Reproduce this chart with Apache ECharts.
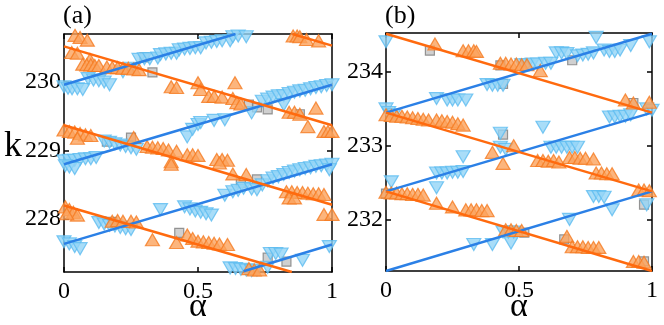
<!DOCTYPE html>
<html>
<head>
<meta charset="utf-8">
<script src="https://cdn.jsdelivr.net/npm/echarts@6/dist/echarts.min.js"></script>
<style>
  html, body { margin: 0; padding: 0; background: #fff; }
  #chart { width: 664px; height: 325px; }
</style>
</head>
<body>
<div id="chart"></div>
<script>
// panel (a): [alpha, k]
const aOrange = [
  [0.041,230.68],[0.06,230.65],[0.087,230.61],[0.029,230.43],[0.05,230.42],[0.097,230.33],
  [0.07,230.26],[0.085,230.25],[0.10,230.25],[0.115,230.24],[0.13,230.24],
  [0.16,230.22],[0.18,230.21],[0.2,230.21],[0.22,230.2],[0.24,230.2],[0.26,230.19],[0.28,230.18],
  [0.40,229.93],[0.42,229.92],[0.50,229.99],[0.51,229.89],[0.54,229.79],[0.56,229.79],[0.59,229.78],
  [0.638,229.99],[0.63,229.76],[0.645,229.70],[0.66,229.68],
  [0.855,230.67],[0.87,230.67],[0.88,230.66],[0.905,230.62],[0.95,230.60],
  [0.94,229.62],[0.84,229.56],[0.86,229.56],[0.88,229.53],[0.91,229.35],[0.97,229.28],[0.985,229.28],[1.0,229.28],
  [0,229.3],[0.02,229.28],[0.04,229.27],[0.06,229.25],[0.08,229.23],[0.1,229.22],[0.05,229.18],
  [0.26,229.19],[0.31,229.06],[0.33,229.05],[0.35,229.04],[0.37,229.03],[0.39,229.01],[0.42,228.99],
  [0.40,228.84],[0.46,228.94],[0.48,228.94],[0.50,228.93],[0.57,228.87],[0.59,228.87],[0.61,228.86],
  [0.40,228.80],[0.58,228.82],[0.63,228.66],[0.68,228.65],
  [0.83,228.40],[0.85,228.40],[0.87,228.39],[0.89,228.39],[0.91,228.38],[0.93,228.37],[0.95,228.37],[0.97,228.36],
  [0.84,228.31],[0.86,228.31],[0.97,228.07],[1.0,228.07],
  [0.005,228.18],[0.02,228.14],[0.035,228.1],[0.05,228.06],[0.01,228.08],
  [0.18,227.97],[0.20,227.98],[0.22,227.97],[0.25,227.97],[0.27,227.96],
  [0.33,227.70],[0.42,227.66],[0.46,227.77],[0.48,227.72],[0.50,227.68],[0.52,227.67],[0.54,227.66],
  [0.56,227.65],[0.58,227.64],[0.61,227.63],
  [0.69,227.28],[0.71,227.26],[0.73,227.26]
];
const aBlue = [
  [0,229.93],[0.015,229.91],[0.03,229.9],[0.05,229.9],[0.07,229.89],
  [0.09,230.05],[0.11,230.03],[0.13,230.02],[0.15,230.0],[0.17,229.96],[0.22,230.15],[0.25,230.2],
  [0.28,230.33],[0.30,230.34],[0.32,230.34],[0.35,230.35],
  [0.36,230.40],[0.38,230.41],[0.40,230.42],[0.42,230.42],
  [0.43,230.47],[0.45,230.48],[0.47,230.49],[0.49,230.5],[0.51,230.5],
  [0.53,230.57],[0.55,230.58],[0.57,230.59],[0.59,230.6],[0.62,230.6],
  [0.63,230.66],[0.65,230.67],[0.68,230.66],
  [0.70,229.55],[0.74,229.72],[0.76,229.75],[0.78,229.78],[0.8,229.8],[0.82,229.8],[0.84,229.83],
  [0.86,229.85],[0.88,229.87],[0.9,229.88],[0.92,229.9],[0.94,229.92],[0.96,229.93],[0.98,229.95],[1.0,229.96],
  [0.82,229.67],[0.46,229.20],[0.48,229.31],[0.50,229.38],[0.51,229.41],[0.56,229.44],[0.6,229.45],
  [0.15,229.14],[0.17,229.12],[0.19,229.1],[0.21,229.08],[0.23,229.06],[0.25,229.04],[0.27,229.02],
  [0,228.85],[0.02,228.86],[0.04,228.86],[0.06,228.87],[0.08,228.88],[0.10,228.88],[0.12,228.9],
  [0.005,228.78],[0.02,228.76],[0.04,228.74],
  [0.60,228.35],[0.63,228.40],[0.65,228.42],[0.67,228.45],[0.70,228.44],[0.72,228.43],[0.74,228.5],
  [0.76,228.56],[0.78,228.6],[0.8,228.62],[0.82,228.65],[0.84,228.68],[0.86,228.7],[0.88,228.72],
  [0.9,228.74],[0.92,228.75],[0.94,228.77],[0.96,228.78],[0.98,228.79],[1.0,228.8],[0.99,228.72],
  [0.45,228.18],[0.47,228.15],[0.49,228.12],[0.51,228.1],[0.53,228.08],[0.55,228.06],[0.36,228.14],
  [0.13,227.95],[0.15,227.93],[0.17,227.91],[0.19,227.9],[0.21,227.88],[0.23,227.86],[0.25,227.85],
  [0,227.67],[0.02,227.64],[0.04,227.6],[0.06,227.57],
  [0.62,227.29],[0.64,227.28],[0.66,227.27],[0.68,227.26],[0.70,227.25],[0.72,227.26],[0.76,227.3],
  [0.77,227.5],[0.79,227.5],[0.81,227.49],[0.89,227.4],[0.99,227.6]
];
const aGray = [
  [0.30,230.36],[0.33,230.14],[0.69,229.67],[0.72,229.63],[0.76,229.6],[0.88,229.53],
  [0.16,229.13],[0.25,229.19],[0.66,228.53],[0.72,228.58],[0.18,227.96],[0.43,227.80],
  [0.76,227.44],[0.83,227.38]
];
const aOrangeLines = [
  [[0,230.52],[1,229.37]], [[0,229.37],[1,228.21]], [[0,228.20],[0.85,227.23]], [[0.852,230.70],[1,230.53]]
];
const aBlueLines = [
  [[0,229.96],[0.64,230.70]], [[0,228.80],[1,229.96]], [[0,227.64],[1,228.80]], [[0.67,227.24],[1,227.63]]
];
const aTicks = [228, 229, 230];

// panel (b)
const bOrange = [
  [0.184,234.38],[0.29,234.29],[0.31,234.29],[0.33,234.29],[0.34,234.28],
  [0.43,234.12],[0.45,234.12],[0.47,234.11],[0.49,234.11],[0.51,234.1],[0.53,234.1],[0.58,234.02],
  [0.90,233.62],[0.99,233.59],[0.93,233.58],
  [0,233.42],[0.02,233.41],[0.04,233.4],[0.06,233.4],[0.08,233.39],[0.10,233.38],[0.12,233.37],[0.14,233.36],[0.16,233.35],
  [0.19,233.35],[0.21,233.34],[0.23,233.33],[0.25,233.32],[0.27,233.3],[0.29,233.28],
  [0.40,232.91],[0.44,232.76],[0.48,233.0],
  [0.57,232.8],[0.59,232.8],[0.61,232.79],[0.63,232.8],[0.65,232.78],
  [0.69,232.84],[0.71,232.84],[0.73,232.83],[0.75,232.83],[0.78,232.82],
  [0.79,232.63],[0.81,232.63],[0.83,232.62],[0.85,232.62],
  [0.95,232.4],[0.97,232.4],[0.99,232.39],
  [0,232.37],[0.02,232.36],[0.04,232.36],[0.06,232.35],[0.08,232.35],[0.10,232.34],[0.12,232.34],[0.14,232.33],
  [0.19,232.22],[0.25,232.17],[0.30,232.13],[0.32,232.13],[0.34,232.13],[0.36,232.12],[0.38,232.12],
  [0.45,231.86],[0.47,231.86],[0.49,231.85],[0.51,231.85],
  [0.68,231.77],[0.70,231.63],[0.72,231.63],[0.74,231.63],[0.76,231.62],[0.78,231.62],[0.80,231.62],
  [0.93,231.43],[0.95,231.43],[0.97,231.42]
];
const bBlue = [
  [0,234.41],[0.79,234.47],[0.99,234.41],
  [0.64,234.26],[0.66,234.26],[0.68,234.25],[0.72,234.22],[0.74,234.23],[0.76,234.24],[0.78,234.26],
  [0.82,234.3],[0.84,234.28],[0.86,234.28],[0.88,234.3],[0.92,234.36],
  [0.51,234.1],[0.53,234.1],[0.55,234.11],[0.57,234.11],[0.60,234.12],[0.62,234.12],
  [0.38,233.83],[0.40,233.82],[0.42,233.82],[0.44,233.82],
  [0.19,233.64],[0.23,233.62],[0.25,233.62],[0.27,233.62],[0.30,233.62],
  [0,233.5],[0.01,233.45],[0.03,233.42],
  [0.59,233.25],[0.43,233.17],[0.62,232.98],[0.64,232.98],[0.66,232.98],[0.68,232.98],[0.70,232.98],[0.72,232.98],
  [0.43,232.98],[0.45,232.95],[0.29,232.85],
  [0.84,233.39],[0.86,233.39],[0.88,233.4],[0.90,233.4],[0.92,233.42],[0.98,233.5],[1.0,233.48],
  [0.02,232.51],[0.19,232.63],[0.21,232.63],[0.23,232.63],[0.25,232.64],[0.27,232.64],[0.29,232.65],[0.19,232.43],
  [0.33,231.66],[0.40,231.66],[0.47,231.68],[0.44,231.83],[0.46,231.83],[0.48,231.83],
  [0.69,232.0],[0.78,232.31],[0.80,232.31],[0.82,232.3],[0.85,232.13],[0.98,232.2]
];
const bGray = [
  [0.165,234.29],[0.43,234.09],[0.44,233.84],[0.70,234.16],[0.93,233.58],[0.44,233.15],
  [0,232.35],[0.52,231.82],[0.67,231.73],[0.97,231.43],[0.97,232.2]
];
const bOrangeLines = [
  [[0,234.52],[1,233.45]], [[0,233.45],[1,232.38]], [[0,232.38],[1,231.30]]
];
const bBlueLines = [
  [[0,231.30],[1,232.38]], [[0,232.38],[1,233.45]], [[0,233.45],[1,234.52]]
];
const bTicks = [232, 233, 234];

const serif = 'Liberation Serif';

const ORANGE_LINE = '#ff6a0e';
const BLUE_LINE = '#2b80e6';

function xAxes(gi) {
  const base = {
    gridIndex: gi, type: 'value', min: 0, max: 1, interval: 0.5,
    splitLine: { show: false },
    axisLine: { show: true, onZero: false, lineStyle: { color: '#000', width: 1.5 } },
    axisTick: { show: true, inside: true, length: 5, lineStyle: { color: '#000', width: 1.5 } }
  };
  return [
    Object.assign({}, base, {
      position: 'bottom',
      axisLabel: { color: '#000', fontFamily: serif, fontSize: 24, margin: 8,
        formatter: v => String(v) }
    }),
    Object.assign({}, base, { position: 'top', axisLabel: { show: false } })
  ];
}

function yAxes(gi, lo, hi, ticks) {
  const base = {
    gridIndex: gi, type: 'value', min: lo, max: hi,
    splitLine: { show: false },
    axisLine: { show: true, onZero: false, lineStyle: { color: '#000', width: 1.5 } },
    axisTick: { show: true, inside: true, length: 5, customValues: ticks,
      lineStyle: { color: '#000', width: 1.5 } }
  };
  return [
    Object.assign({}, base, {
      position: 'left',
      axisLabel: { color: '#000', fontFamily: serif, fontSize: 24, margin: 3, customValues: ticks }
    }),
    Object.assign({}, base, { position: 'right', axisLabel: { show: false } })
  ];
}

function panelSeries(axOff, orange, blue, gray, oLines, bLines) {
  const xi = axOff, yi = axOff;
  const s = [];
  s.push({
    type: 'scatter', xAxisIndex: xi, yAxisIndex: yi, data: gray, clip: false, z: 2,
    symbol: 'rect', symbolSize: 9,
    itemStyle: { color: '#c4c4c4', borderColor: '#7d7d7d', borderWidth: 1.2 }
  });
  s.push({
    type: 'scatter', xAxisIndex: xi, yAxisIndex: yi, data: blue, clip: false, z: 3,
    symbol: 'triangle', symbolRotate: 180, symbolSize: [14, 12],
    itemStyle: { color: '#93d4f6', borderColor: '#5cbcf0', borderWidth: 1.2 }
  });
  s.push({
    type: 'scatter', xAxisIndex: xi, yAxisIndex: yi, data: orange, clip: false, z: 4,
    symbol: 'triangle', symbolSize: [14, 12],
    itemStyle: { color: '#fba25c', borderColor: '#f57a20', borderWidth: 1.2 }
  });
  oLines.forEach(seg => s.push({
    type: 'line', xAxisIndex: xi, yAxisIndex: yi, data: seg, showSymbol: false, z: 6,
    lineStyle: { color: ORANGE_LINE, width: 2.5 }, silent: true
  }));
  bLines.forEach(seg => s.push({
    type: 'line', xAxisIndex: xi, yAxisIndex: yi, data: seg, showSymbol: false, z: 5,
    lineStyle: { color: BLUE_LINE, width: 2.5 }, silent: true
  }));
  return s;
}

const chart = echarts.init(document.getElementById('chart'));
const xa = xAxes(0), xb = xAxes(1);
const ya = yAxes(0, 227.23, 230.70, aTicks), yb = yAxes(1, 231.30, 234.53, bTicks);

chart.setOption({
  animation: false,
  backgroundColor: '#fff',
  grid: [
    { left: 64, right: 332, top: 34, bottom: 53 },
    { left: 386, right: 12, top: 33, bottom: 54 }
  ],
  // bottom/left axes first so index 0/1 carry the data
  xAxis: [xa[0], xb[0], xa[1], xb[1]],
  yAxis: [ya[0], yb[0], ya[1], yb[1]],
  series: [].concat(
    panelSeries(0, aOrange, aBlue, aGray, aOrangeLines, aBlueLines),
    panelSeries(1, bOrange, bBlue, bGray, bOrangeLines, bBlueLines)
  ),
  graphic: [
    { type: 'text', left: 63, top: 3, style: { text: '(a)', font: '26px "Liberation Serif"', fill: '#000' } },
    { type: 'text', left: 385, top: 3, style: { text: '(b)', font: '26px "Liberation Serif"', fill: '#000' } },
    { type: 'text', left: 4, top: 129, style: { text: 'k', font: '36px "Liberation Serif"', fill: '#000' } },
    { type: 'text', left: 189, top: 290, style: { text: 'α', font: '34px "Liberation Serif"', fill: '#000' } },
    { type: 'text', left: 510, top: 290, style: { text: 'α', font: '34px "Liberation Serif"', fill: '#000' } }
  ]
});
</script>
</body>
</html>
